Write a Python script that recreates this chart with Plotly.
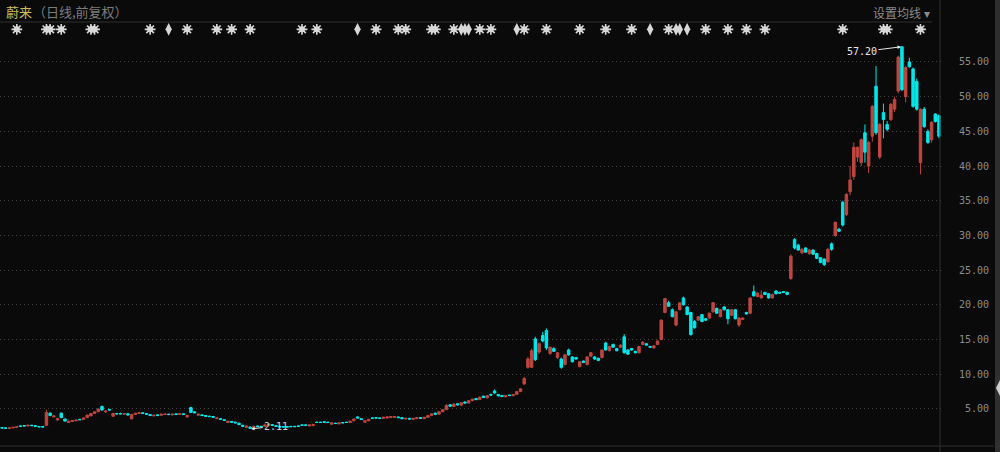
import plotly.graph_objects as go

# ---------------- data ----------------
opens = [
    2.30, 2.27, 2.20, 2.27, 2.36, 2.55, 2.60, 2.55, 2.66, 2.58,
    2.48, 2.44, 2.65, 4.40, 3.85, 3.40, 4.40, 3.55, 3.05, 3.20,
    3.30, 3.50, 3.50, 3.75, 4.00, 4.35, 4.60, 5.35, 4.60, 4.95,
    3.95, 4.35, 4.35, 4.25, 4.30, 3.60, 4.20, 4.35, 4.45, 4.35,
    4.20, 4.00, 4.15, 4.10, 4.20, 4.25, 4.15, 4.30, 4.20, 4.30,
    3.85, 5.20, 4.60, 4.10, 4.15, 4.05, 3.95, 3.90, 3.60, 3.60,
    3.45, 3.05, 3.20, 3.10, 2.95, 2.65, 2.35, 2.40, 2.30, 2.55,
    2.50, 2.50, 2.65, 2.75, 2.60, 2.50, 2.45, 2.45, 2.50, 2.50,
    2.55, 2.70, 2.70, 2.55, 2.60, 3.10, 3.10, 3.15, 3.10, 2.80,
    2.95, 2.85, 3.05, 3.10, 3.05, 3.30, 3.85, 3.60, 3.10, 3.30,
    3.70, 3.75, 3.70, 3.65, 3.70, 3.75, 3.80, 3.85, 3.75, 3.55,
    3.65, 3.50, 3.60, 3.75, 3.60, 3.80, 4.05, 4.40, 4.25, 4.60,
    4.90, 5.60, 5.35, 5.75, 5.55, 6.00, 5.85, 6.20, 6.50, 6.35,
    6.85, 6.60, 7.10, 7.60, 7.10, 6.95, 6.75, 7.00, 6.90, 7.10,
    7.50, 8.60, 11.0, 11.0, 15.1, 13.2, 15.6, 16.3, 13.0, 13.7,
    12.4, 12.2, 11.4, 13.5, 12.5, 12.4, 11.1, 11.9, 11.4, 12.6,
    12.5, 12.3, 12.4, 14.5, 13.4, 14.3, 13.7, 13.9, 15.4, 13.5,
    13.7, 13.3, 13.1, 14.3, 14.4, 14.0, 13.8, 14.3, 15.0, 18.9,
    20.3, 19.3, 17.1, 19.3, 21.0, 19.7, 18.9, 17.6, 17.8, 18.6,
    18.0, 18.1, 19.0, 19.5, 18.3, 19.7, 19.3, 18.5, 19.3, 17.1,
    17.9, 18.9, 18.8, 21.9, 21.2, 21.0, 21.8, 21.6, 21.0, 22.0,
    21.8, 21.9, 21.8, 23.8, 29.4, 28.6, 27.5, 28.2, 27.4, 27.9,
    27.4, 26.8, 26.6, 26.2, 28.8, 30.0, 30.9, 34.8, 33.0, 36.3,
    38.5, 41.3, 40.5, 44.8, 40.0, 44.3, 51.5, 41.3, 47.7, 46.0,
    46.7, 48.2, 50.8, 57.2, 50.0, 55.0, 54.0, 52.2, 40.5, 48.2,
    45.0, 43.8, 47.5, 47.3,
]
highs = [
    2.33, 2.30, 2.30, 2.40, 2.48, 2.58, 2.62, 2.70, 2.68, 2.60,
    2.50, 2.46, 4.90, 4.50, 4.10, 3.75, 4.50, 3.60, 3.30, 3.40,
    3.45, 3.55, 3.75, 4.20, 4.40, 4.70, 5.10, 5.50, 4.80, 5.00,
    4.45, 4.40, 4.45, 4.40, 4.35, 4.30, 4.45, 4.50, 4.50, 4.40,
    4.25, 4.15, 4.20, 4.30, 4.30, 4.30, 4.30, 4.35, 4.40, 4.35,
    4.10, 5.30, 4.65, 4.30, 4.20, 4.10, 4.05, 3.95, 3.75, 3.65,
    3.50, 3.30, 3.25, 3.15, 3.00, 2.70, 2.60, 2.45, 2.60, 2.60,
    2.55, 2.75, 2.85, 2.80, 2.65, 2.55, 2.50, 2.50, 2.55, 2.55,
    2.60, 2.75, 2.75, 2.75, 2.80, 3.15, 3.15, 3.20, 3.15, 3.05,
    3.00, 3.05, 3.10, 3.15, 3.30, 3.60, 3.95, 3.65, 3.35, 3.60,
    3.75, 3.80, 3.75, 3.85, 3.90, 3.95, 3.95, 3.90, 3.80, 3.70,
    3.70, 3.70, 3.80, 3.80, 3.85, 4.10, 4.35, 4.45, 4.65, 5.00,
    5.70, 5.70, 5.80, 5.80, 6.00, 6.10, 6.30, 6.50, 6.60, 6.80,
    6.90, 7.00, 7.20, 7.80, 7.15, 7.00, 7.00, 7.05, 7.15, 7.60,
    8.00, 9.60, 12.5, 13.7, 15.4, 14.6, 16.1, 16.6, 14.0, 13.9,
    13.2, 12.4, 12.9, 13.7, 12.6, 12.5, 11.9, 12.0, 12.6, 13.2,
    12.6, 12.4, 13.6, 14.7, 14.1, 14.4, 13.8, 14.3, 15.8, 13.6,
    13.8, 13.4, 14.1, 14.8, 14.5, 14.1, 14.2, 14.9, 17.9, 21.0,
    20.6, 19.5, 19.1, 20.4, 21.2, 19.8, 19.0, 17.8, 18.4, 18.7,
    18.1, 18.9, 20.4, 19.6, 19.4, 19.8, 19.4, 19.4, 19.4, 18.2,
    18.2, 19.0, 21.1, 22.8, 21.8, 22.1, 21.9, 21.7, 21.6, 22.1,
    21.9, 22.0, 21.9, 27.3, 29.6, 28.8, 28.2, 28.3, 28.0, 28.0,
    27.5, 26.9, 26.7, 28.2, 29.0, 32.0, 31.1, 35.0, 36.1, 40.0,
    43.4, 42.8, 44.0, 46.0, 43.6, 48.8, 54.4, 46.2, 49.0, 46.5,
    49.1, 50.0, 55.9, 57.2, 54.4, 55.6, 54.2, 52.6, 48.3, 48.5,
    45.3, 46.5, 47.6, 47.4,
]
lows = [
    2.20, 2.18, 2.18, 2.25, 2.33, 2.46, 2.52, 2.52, 2.56, 2.47,
    2.38, 2.35, 2.60, 3.95, 3.80, 3.35, 3.70, 3.20, 3.00, 3.15,
    3.25, 3.40, 3.45, 3.70, 3.95, 4.30, 4.55, 4.75, 4.40, 4.80,
    3.90, 4.20, 4.25, 4.20, 4.10, 3.50, 4.15, 4.30, 4.30, 4.20,
    4.00, 3.95, 4.00, 4.05, 4.15, 4.10, 4.10, 4.15, 4.15, 4.15,
    3.80, 4.40, 4.40, 4.05, 4.00, 3.90, 3.85, 3.75, 3.55, 3.45,
    3.30, 3.00, 3.05, 2.95, 2.70, 2.45, 2.30, 2.11, 2.25, 2.40,
    2.40, 2.45, 2.60, 2.60, 2.45, 2.35, 2.35, 2.35, 2.40, 2.40,
    2.45, 2.60, 2.60, 2.50, 2.55, 3.00, 3.00, 3.05, 3.00, 2.75,
    2.85, 2.80, 2.95, 3.00, 3.00, 3.25, 3.65, 3.45, 3.05, 3.25,
    3.60, 3.60, 3.60, 3.60, 3.65, 3.70, 3.75, 3.70, 3.55, 3.50,
    3.50, 3.45, 3.55, 3.60, 3.55, 3.75, 4.00, 4.20, 4.20, 4.55,
    4.85, 5.30, 5.30, 5.50, 5.50, 5.80, 5.80, 6.10, 6.30, 6.30,
    6.60, 6.55, 6.90, 7.20, 6.80, 6.70, 6.70, 6.85, 6.85, 7.05,
    7.45, 8.50, 10.8, 10.9, 11.9, 12.9, 14.6, 13.5, 12.8, 13.2,
    12.2, 10.8, 11.3, 12.7, 11.7, 12.1, 11.0, 11.6, 11.3, 12.5,
    12.1, 11.9, 12.3, 13.4, 13.3, 13.8, 13.3, 13.8, 13.0, 12.8,
    13.4, 13.0, 13.0, 14.2, 14.1, 13.8, 13.7, 14.2, 14.9, 18.8,
    19.7, 18.2, 16.9, 19.2, 19.9, 18.5, 15.6, 16.6, 17.7, 17.5,
    17.7, 18.0, 18.9, 18.7, 18.2, 19.2, 17.2, 18.4, 17.9, 16.8,
    17.8, 18.6, 18.7, 21.2, 21.1, 20.9, 21.4, 20.9, 20.9, 21.5,
    21.6, 21.7, 21.4, 23.6, 28.0, 27.8, 27.3, 27.5, 27.2, 27.2,
    26.6, 26.0, 25.6, 26.1, 27.8, 29.8, 30.5, 31.3, 32.8, 35.8,
    38.0, 40.6, 40.0, 40.5, 39.0, 43.5, 44.5, 41.0, 44.0, 45.0,
    46.5, 47.8, 50.5, 50.8, 49.2, 54.2, 48.4, 48.0, 38.8, 45.5,
    43.2, 43.4, 46.3, 44.0,
]
closes = [
    2.25, 2.22, 2.27, 2.36, 2.45, 2.50, 2.55, 2.66, 2.60, 2.50,
    2.42, 2.40, 4.50, 4.05, 4.00, 3.60, 3.75, 3.25, 3.25, 3.35,
    3.40, 3.45, 3.70, 4.10, 4.35, 4.60, 5.00, 4.85, 4.70, 4.85,
    4.35, 4.30, 4.30, 4.35, 4.15, 4.20, 4.40, 4.45, 4.35, 4.25,
    4.05, 4.10, 4.05, 4.25, 4.25, 4.20, 4.25, 4.20, 4.35, 4.20,
    4.05, 4.50, 4.45, 4.25, 4.05, 3.95, 3.90, 3.80, 3.70, 3.50,
    3.35, 3.25, 3.10, 3.00, 2.75, 2.50, 2.55, 2.20, 2.50, 2.45,
    2.45, 2.70, 2.80, 2.65, 2.50, 2.40, 2.40, 2.40, 2.45, 2.45,
    2.50, 2.65, 2.65, 2.70, 2.75, 3.05, 3.05, 3.10, 3.05, 3.00,
    2.90, 3.00, 3.00, 3.05, 3.25, 3.55, 3.70, 3.50, 3.30, 3.50,
    3.65, 3.70, 3.65, 3.80, 3.85, 3.90, 3.90, 3.75, 3.60, 3.65,
    3.55, 3.65, 3.75, 3.65, 3.80, 4.05, 4.30, 4.25, 4.60, 4.90,
    5.50, 5.40, 5.70, 5.60, 5.90, 5.85, 6.20, 6.40, 6.35, 6.70,
    6.65, 6.90, 7.00, 7.30, 6.90, 6.80, 6.90, 6.95, 7.10, 7.50,
    7.90, 9.40, 12.2, 13.4, 12.1, 14.4, 14.8, 13.8, 13.9, 13.3,
    13.1, 11.0, 12.8, 12.8, 11.8, 12.2, 11.8, 11.7, 12.5, 13.1,
    12.2, 12.0, 13.5, 13.5, 14.0, 13.9, 13.4, 14.2, 13.1, 12.9,
    13.5, 13.1, 14.0, 14.6, 14.2, 13.9, 14.1, 14.8, 17.8, 20.9,
    19.8, 18.3, 19.0, 20.3, 20.0, 18.6, 15.7, 16.7, 18.3, 17.6,
    17.8, 18.8, 20.3, 18.8, 19.3, 19.3, 18.0, 19.3, 18.0, 18.1,
    18.1, 18.7, 21.0, 21.3, 21.7, 21.4, 21.5, 21.0, 21.5, 21.6,
    21.7, 21.8, 21.5, 27.0, 28.2, 27.9, 28.0, 27.6, 27.9, 27.3,
    26.7, 26.1, 25.8, 28.0, 28.0, 31.9, 30.6, 31.5, 35.9, 38.0,
    42.7, 42.7, 43.8, 42.0, 43.4, 48.6, 44.8, 46.0, 46.7, 45.3,
    48.9, 49.6, 55.7, 51.0, 54.2, 54.3, 48.6, 48.2, 48.2, 45.7,
    43.4, 46.3, 46.4, 44.3,
]
days = list(range(len(closes)))

# event markers along the top row (trading-day index)
star_days = [4, 12, 13, 16, 24, 25, 40, 50, 58, 62, 67, 81, 85, 101, 107, 109,
             116, 117, 122, 129, 132, 141, 147, 156, 163, 170, 180, 190, 196,
             201, 206, 227, 238, 239, 248]
thin_days = [45, 96, 124, 125, 126, 139, 175, 182, 183, 185]
marker_level = 59.7

tick_vals = [5, 10, 15, 20, 25, 30, 35, 40, 45, 50, 55]
tick_text = ["\u20075.00", "10.00", "15.00", "20.00", "25.00", "30.00",
             "35.00", "40.00", "45.00", "50.00", "55.00"]

high_idx = highs.index(max(highs))
low_idx = lows.index(min(lows))

# ---------------- figure ----------------
W, H = 1000, 452
ML, MR, MT, MB = 0, 58, 22, 5
PW, PH = W - ML - MR, H - MT - MB


def px(x):
    return (x - ML) / PW


def py(y):
    return (H - MB - y) / PH


UP = "#bf463f"
DOWN = "#00e8ea"
BG = "#0a0a0a"
MARK = "#d8d8d8"

fig = go.Figure()
fig.add_trace(go.Candlestick(
    x=days, open=opens, high=highs, low=lows, close=closes,
    increasing=dict(line=dict(color=UP, width=1), fillcolor=UP),
    decreasing=dict(line=dict(color=DOWN, width=1), fillcolor=DOWN),
    whiskerwidth=0, showlegend=False, hoverinfo="skip",
))
fig.add_trace(go.Scatter(
    x=star_days, y=[marker_level] * len(star_days), mode="markers",
    marker=dict(symbol="circle", size=6, color=MARK, line=dict(width=0)),
    showlegend=False, hoverinfo="skip"))
fig.add_trace(go.Scatter(
    x=star_days, y=[marker_level] * len(star_days), mode="markers",
    marker=dict(symbol="asterisk-open", size=9, color=MARK,
                line=dict(color=MARK, width=1.6)),
    showlegend=False, hoverinfo="skip"))
fig.add_trace(go.Scatter(
    x=thin_days, y=[marker_level] * len(thin_days), mode="markers",
    marker=dict(symbol="diamond-tall", size=9, color=MARK, line=dict(width=0)),
    showlegend=False, hoverinfo="skip"))

line_c = "#2e2e2e"
shapes = [
    dict(type="line", xref="paper", yref="paper", x0=px(0), x1=px(932),
         y0=py(22), y1=py(22), line=dict(color=line_c, width=1)),
    dict(type="line", xref="paper", yref="paper", x0=px(940), x1=px(940),
         y0=py(0), y1=py(H), line=dict(color=line_c, width=1)),
    dict(type="line", xref="paper", yref="paper", x0=px(0), x1=px(994),
         y0=py(446), y1=py(446), line=dict(color=line_c, width=1)),
    dict(type="rect", xref="paper", yref="paper", x0=px(995), x1=px(1000),
         y0=py(0), y1=py(H), fillcolor="#303030", line=dict(width=0)),
    dict(type="path", xref="paper", yref="paper",
         path=f"M {px(1000)} {py(380)} L {px(996)} {py(388)} L {px(1000)} {py(396)} Z",
         fillcolor="#d0d0d0", line=dict(width=0)),
]

annotations = [
    dict(text="蔚来", xref="paper", yref="paper", x=px(4), y=py(11),
         xanchor="left", yanchor="middle", showarrow=False,
         font=dict(family="Noto Sans CJK SC", size=13, color="#cdbf5c")),
    dict(text="（日线,前复权）", xref="paper", yref="paper", x=px(31), y=py(11),
         xanchor="left", yanchor="middle", showarrow=False,
         font=dict(family="Noto Sans CJK SC", size=13, color="#7c7c7c")),
    dict(text="设置均线 ▾", xref="paper", yref="paper", x=px(932), y=py(12),
         xanchor="right", yanchor="middle", showarrow=False,
         font=dict(family="Noto Sans CJK SC", size=12, color="#8a8a8a")),
    dict(text=f"{max(highs):.2f}", x=days[high_idx], y=highs[high_idx],
         xref="x", yref="y", showarrow=True, ax=-40, ay=5,
         arrowhead=2, arrowsize=0.7, arrowwidth=1, arrowcolor="#e6e6e6",
         standoff=1, font=dict(family="DejaVu Sans Mono", size=10, color="#e6e6e6")),
    dict(text=f"{min(lows):.2f}", x=days[low_idx], y=lows[low_idx],
         xref="x", yref="y", showarrow=True, ax=26, ay=-3,
         arrowhead=2, arrowsize=0.7, arrowwidth=1, arrowcolor="#e6e6e6",
         standoff=1, font=dict(family="DejaVu Sans Mono", size=10, color="#d0d0d0")),
]

fig.update_layout(
    width=W, height=H,
    margin=dict(l=ML, r=MR, t=MT, b=MB, pad=0),
    paper_bgcolor=BG, plot_bgcolor=BG,
    boxgap=0.05,
    shapes=shapes, annotations=annotations,
    xaxis=dict(range=[-0.54, len(days) - 1 + 0.81], showgrid=False,
               showticklabels=False, zeroline=False, showline=False,
               rangeslider=dict(visible=False), fixedrange=True),
    yaxis=dict(side="right", range=[-0.48, 60.76], tickvals=tick_vals,
               ticktext=tick_text, showgrid=True, gridcolor="#444444",
               griddash="1px,3px", gridwidth=1, zeroline=False, showline=False,
               ticks="", ticklabelstandoff=16, automargin=False,
               tickfont=dict(family="DejaVu Sans Mono", size=10, color="#8a8a8a")),
    hovermode=False,
)

fig.write_html(
    "out.html",
    config=dict(displayModeBar=False),
    post_script="document.body.style.margin='0';document.body.style.background='#0a0a0a';",
)
